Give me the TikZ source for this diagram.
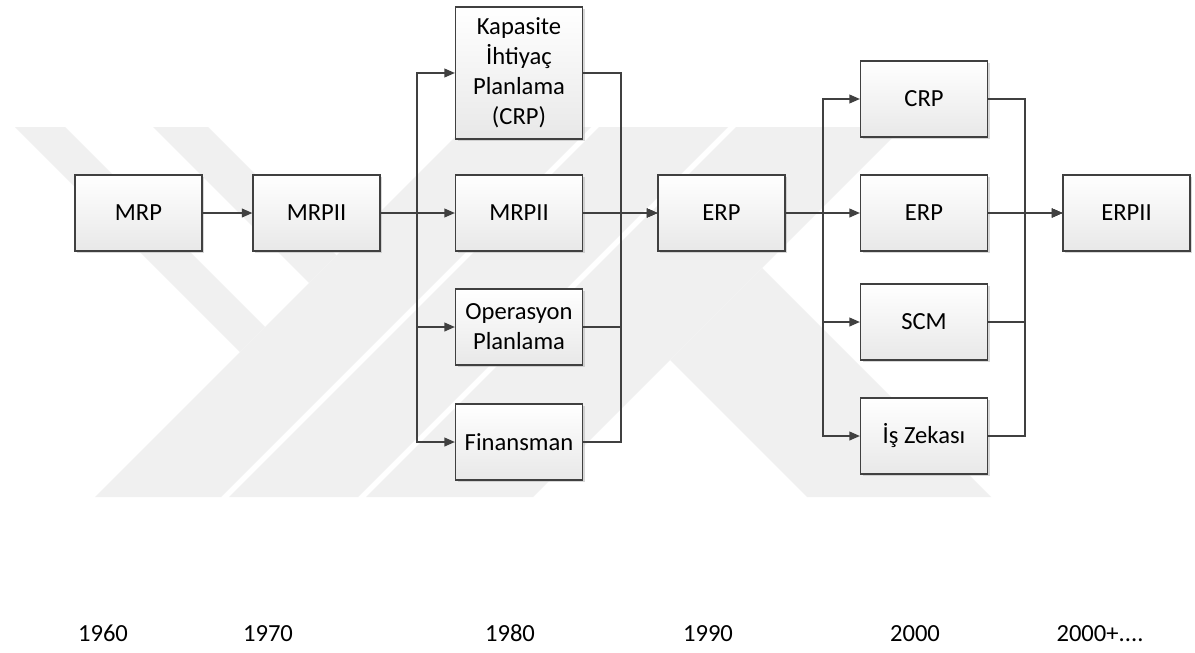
\documentclass[tikz,border=0pt]{standalone}
\usepackage{fontspec}
\setmainfont{Carlito}[Numbers=Lining]
\usetikzlibrary{positioning, arrows.meta, shadows, calc}

\begin{document}
\begin{tikzpicture}[
            x=0.02cm, y=-0.02cm,
            every node/.style={font=\fontsize{14}{17}\selectfont},
            box/.style={draw=black!75, line width=0.7pt, top color=white, bottom color=black!9,
                        minimum width=2.54cm, minimum height=1.52cm, align=center, inner sep=1pt,
                        drop shadow={shadow xshift=1.3pt, shadow yshift=-1.3pt, fill=black!30, opacity=0.5}},
            arrow/.style={-{Triangle[length=6pt, width=5pt]}, draw=black!75, line width=0.85pt},
            year/.style={anchor=base},
            wm/.style={fill=black!6, draw=none}
      ]
      \fill[white] (0,0) rectangle (1195,652);
      \useasboundingbox (0,0) rectangle (1195,652);

      % watermark
      \fill[wm] (15,127) -- (65,127) -- (265,327) -- (240,352) -- cycle;
      \fill[wm] (153,127) -- (208,127) -- (336.5,255.5) -- (309,283) -- cycle;
      \fill[wm] (95,497) -- (221,497) -- (591,127) -- (465,127) -- cycle;
      \fill[wm] (229,497) -- (358,497) -- (728,127) -- (599,127) -- cycle;
      \fill[wm] (366,497) -- (533,497) -- (903,127) -- (736,127) -- cycle;
      \fill[wm] (670,360) -- (762,268) -- (991,497) -- (807,497) -- cycle;

      % first row
      \node[box] (mrp)  at (138.5,213) {MRP};
      \node[box] (mrpa) at (316.5,213) {MRPII};

      % 1980 column
      \node[box, minimum height=2.64cm] (kap) at (519,73) {Kapasite\\İhtiyaç\\Planlama\\(CRP)};
      \node[box] (mrpb) at (519,213) {MRPII};
      \node[box] (ops)  at (519,327) {Operasyon\\Planlama};
      \node[box] (fin)  at (519,442) {Finansman};

      \node[box] (erpa) at (721.5,213) {ERP};

      % 2000 column
      \node[box] (crp)  at (924,99)  {CRP};
      \node[box] (erpb) at (924,213) {ERP};
      \node[box] (scm)  at (924,322) {SCM};
      \node[box] (bi)   at (924,436) {İş Zekası};

      \node[box] (erpii) at (1126.5,213) {ERPII};

      % buses
      \coordinate (sa) at (417,213);
      \coordinate (ja) at (621,213);
      \coordinate (sb) at (823,213);
      \coordinate (jb) at (1025,213);

      \draw[arrow] (mrp) -- (mrpa);
      \foreach \t in {kap, mrpb, ops, fin}
            \draw[arrow] (mrpa.east) -- (sa) |- (\t.west);
      \foreach \s in {kap, mrpb, ops, fin}
            \draw[arrow] (\s.east) -| (ja) -- (erpa.west);
      \foreach \t in {crp, erpb, scm, bi}
            \draw[arrow] (erpa.east) -- (sb) |- (\t.west);
      \foreach \s in {crp, erpb, scm, bi}
            \draw[arrow] (\s.east) -| (jb) -- (erpii.west);

      % years
      \node[year] (y60) at (103,641)  {1960};
      \node[year] (y70) at (268,641)  {1970};
      \node[year] (y80) at (510,641)  {1980};
      \node[year] (y90) at (708,641)  {1990};
      \node[year] (y00) at (915,641)  {2000};
      \node[year] (y01) at (1100,641) {2000+....};
\end{tikzpicture}
\end{document}
